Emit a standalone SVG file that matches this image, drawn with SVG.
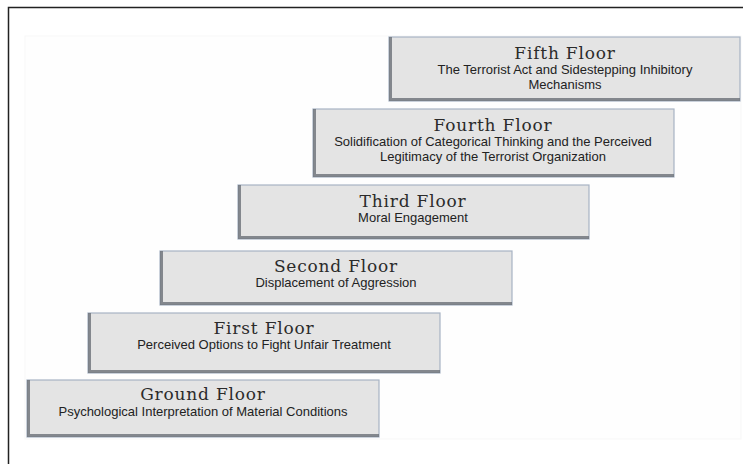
<svg xmlns="http://www.w3.org/2000/svg" width="743" height="464" viewBox="0 0 743 464">
<defs>
<style>
.box{fill:#e4e4e4;stroke:#a7b3c4;stroke-width:1.2}
.shade{fill:none;stroke:#6a6f77;stroke-width:3;stroke-opacity:0.8}
.t{font-family:"DejaVu Serif","Liberation Serif",serif;font-size:17px;letter-spacing:0.8px;fill:#2b2b2b;text-anchor:middle}
.s{font-family:"Liberation Sans",Arial,sans-serif;font-size:13px;fill:#222;text-anchor:middle}
</style>
</defs>
<rect x="0" y="0" width="743" height="464" fill="#ffffff"/>
<rect x="25" y="36" width="716" height="403" fill="#fefefe" stroke="#f7f7f7" stroke-width="1"/>
<path d="M8.5 464 V7.5 H743" fill="none" stroke="#222" stroke-width="1.5"/>
<g id="ground">
<rect class="box" x="27" y="380" width="352" height="57"/>
<path class="shade" d="M28.5 380 V435.5 H379"/>
<text class="t" x="203" y="400">Ground Floor</text>
<text class="s" x="203" y="416">Psychological Interpretation of Material Conditions</text>
</g>
<g id="first">
<rect class="box" x="88" y="313" width="352" height="60"/>
<path class="shade" d="M89.5 313 V371.5 H440"/>
<text class="t" x="264" y="334">First Floor</text>
<text class="s" x="264" y="349">Perceived Options to Fight Unfair Treatment</text>
</g>
<g id="second">
<rect class="box" x="160" y="251" width="352" height="54"/>
<path class="shade" d="M161.5 251 V303.5 H512"/>
<text class="t" x="336" y="272">Second Floor</text>
<text class="s" x="336" y="287">Displacement of Aggression</text>
</g>
<g id="third">
<rect class="box" x="238" y="185" width="351" height="54"/>
<path class="shade" d="M239.5 185 V237.5 H589"/>
<text class="t" x="413" y="207">Third Floor</text>
<text class="s" x="413" y="222">Moral Engagement</text>
</g>
<g id="fourth">
<rect class="box" x="313" y="109" width="361" height="68"/>
<path class="shade" d="M314.5 109 V175.5 H674"/>
<text class="t" x="493" y="131">Fourth Floor</text>
<text class="s" x="493" y="146">Solidification of Categorical Thinking and the Perceived</text>
<text class="s" x="493" y="161">Legitimacy of the Terrorist Organization</text>
</g>
<g id="fifth">
<rect class="box" x="389" y="37" width="351" height="64"/>
<path class="shade" d="M390.5 37 V99.5 H740"/>
<text class="t" x="565" y="59">Fifth Floor</text>
<text class="s" x="565" y="74">The Terrorist Act and Sidestepping Inhibitory</text>
<text class="s" x="565" y="89">Mechanisms</text>
</g>
<g id="connectors"/>
</svg>
